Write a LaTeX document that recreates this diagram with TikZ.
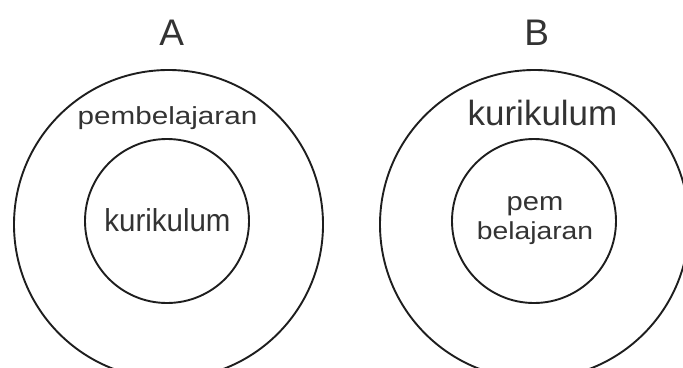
\documentclass[tikz,border=0pt]{standalone}
\usepackage{fontspec}
\setmainfont{Liberation Sans}
\usepackage{xcolor}
\definecolor{ink}{HTML}{333333}
\definecolor{rim}{HTML}{1E1E1E}
\tikzstyle{every node}=[inner sep=0pt, text=ink]
\tikzstyle{ring} = [circle, draw=rim, line width=1.9pt]
\tikzstyle{word} = [anchor=base]

\begin{document}
\begin{tikzpicture}[x=1pt, y=-1pt]
    \useasboundingbox (0,0) rectangle (683,367);
    % Place rings
    \node [ring, minimum size=309pt] (outerA) at (168.5,224.5) {};
    \node [ring, minimum size=164pt] (innerA) at (167,221) {};
    \node [ring, minimum size=309pt] (outerB) at (534.5,224.5) {};
    \node [ring, minimum size=164pt] (innerB) at (534,221) {};
    % Place labels
    \node [word, font=\fontsize{37}{40}\selectfont] (titleA) at (171.7,45) {A};
    \node [word, font=\fontsize{37}{40}\selectfont] (titleB) at (536.7,45) {B};
    \node [word, font=\fontsize{24.7}{28}\selectfont\addfontfeatures{FakeStretch=1.2}] (pembA) at (167.5,124) {pembelajaran};
    \node [word, font=\fontsize{31.7}{34}\selectfont\addfontfeatures{FakeStretch=0.93}] (kuriA) at (167.5,231) {kurikulum};
    \node [word, font=\fontsize{35}{38}\selectfont] (kuriB) at (542.5,125) {kurikulum};
    \node [word, font=\fontsize{26}{29}\selectfont\addfontfeatures{FakeStretch=1.12}] (pemB) at (535,210.7) {pem};
    \node [word, font=\fontsize{24.6}{28}\selectfont\addfontfeatures{FakeStretch=1.15}] (belB) at (535,239.3) {belajaran};
\end{tikzpicture}
\end{document}
